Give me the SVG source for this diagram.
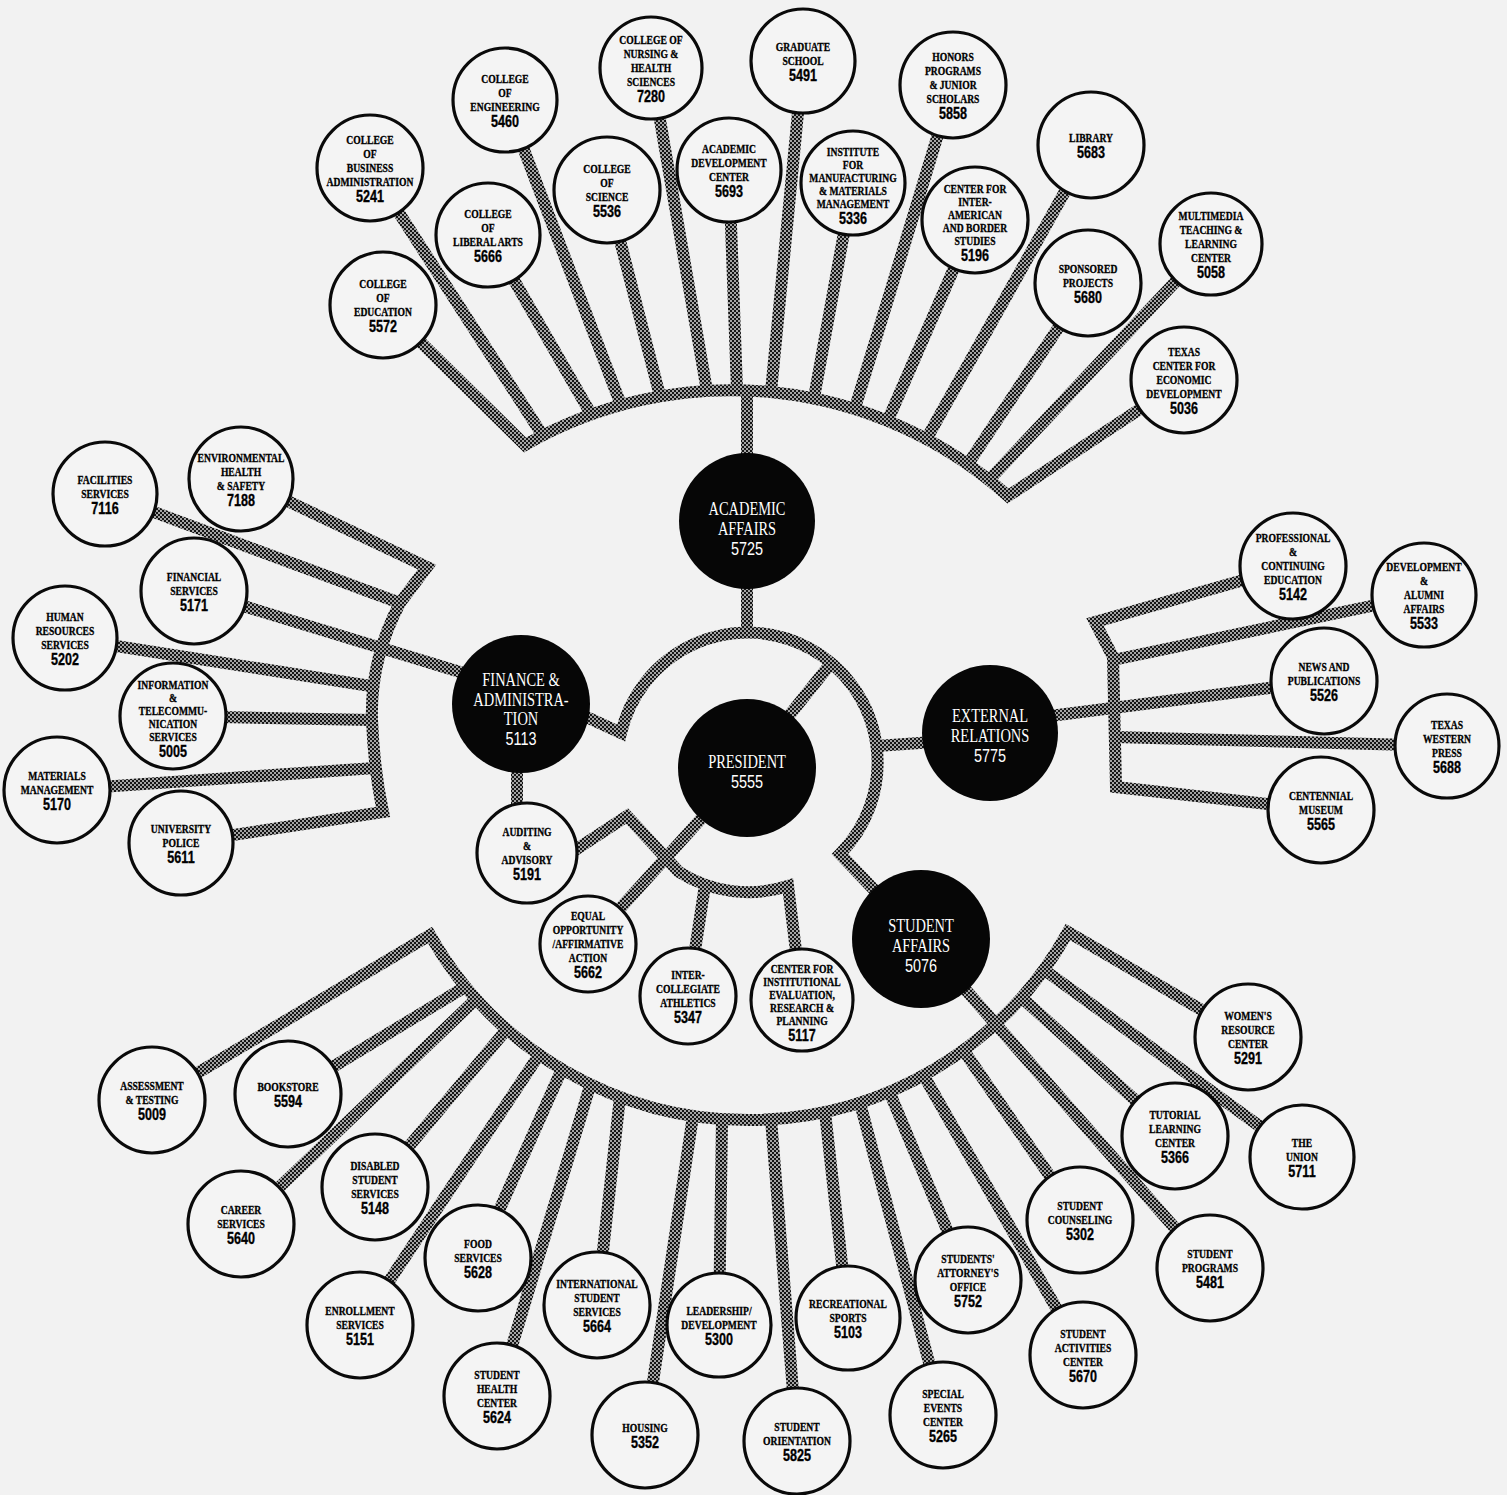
<svg xmlns="http://www.w3.org/2000/svg" width="1507" height="1495" viewBox="0 0 1507 1495">
<defs>
<pattern id="chk" width="4" height="4" patternUnits="userSpaceOnUse"><rect width="4" height="4" fill="#a4a4a4"/><rect width="2" height="2" fill="#151515"/><rect x="2" y="2" width="2" height="2" fill="#151515"/></pattern>
<style>
.k{fill:none;stroke:url(#chk);stroke-width:12;stroke-linejoin:miter;stroke-miterlimit:10}
.c{fill:#f4f4f4;stroke:#0a0a0a;stroke-width:3.2}
.h{fill:#060606}
.t{font-family:"Liberation Serif",serif;font-weight:bold;font-size:13px;text-anchor:middle;fill:#000;stroke:#000;stroke-width:0.35}
.n{font-family:"Liberation Sans",sans-serif;font-weight:bold;font-size:17px}
.ht{font-family:"Liberation Serif",serif;font-size:18.5px;text-anchor:middle;fill:#fff}
.hn{font-family:"Liberation Sans",sans-serif;font-size:18.5px}
</style>
</defs>
<rect width="1507" height="1495" fill="#f2f2f2"/>
<g id="connectors" class="k">
<path d="M383,305 L525,445 A415,415 0 0 1 1008,496 L1184,380"/>
<path d="M543,436 L370,168"/>
<path d="M591,414 L488,235"/>
<path d="M621,405 L505,100"/>
<path d="M660,396 L607,190"/>
<path d="M707,391 L651,68"/>
<path d="M737,390 L729,170"/>
<path d="M771,392 L803,61"/>
<path d="M814,398 L853,183"/>
<path d="M855,408 L953,85"/>
<path d="M888,420 L975,220"/>
<path d="M927,438 L1091,145"/>
<path d="M968,464 L1088,283"/>
<path d="M990,479 L1211,244"/>
<path d="M747,390 L747,632"/>
<path d="M921,939 L840,854 A130,130 0 1 0 621,733 L580,714"/>
<path d="M747,768 L832,662"/>
<path d="M877,746 L990,738"/>
<path d="M560,860 L627,816 L679,872 A130,130 0 0 0 788,886 L802,1000"/>
<path d="M705,885 L688,996"/>
<path d="M747,768 L588,944"/>
<path d="M517,703 L517,853"/>
<path d="M241,479 L427,567 L400,603 Q370,660 372,720 Q374,770 383,812 L181,843"/>
<path d="M400,603 L105,494"/>
<path d="M377,687 L65,638"/>
<path d="M372,720 L173,716"/>
<path d="M375,768 L57,790"/>
<path d="M470,675 L194,591"/>
<path d="M1293,566 L1095,622 L1113,657 L1116,787 L1321,810"/>
<path d="M1113,660 L1424,595"/>
<path d="M1115,737 L1447,746"/>
<path d="M1050,716 L1324,681"/>
<path d="M152,1100 L430,935 A366,366 0 0 0 1068,932 L1248,1037"/>
<path d="M465,987 L288,1094"/>
<path d="M475,1000 L241,1224"/>
<path d="M507,1029 L375,1187"/>
<path d="M539,1055 L360,1325"/>
<path d="M562,1069 L478,1258"/>
<path d="M590,1086 L497,1396"/>
<path d="M620,1097 L597,1305"/>
<path d="M693,1116 L645,1435"/>
<path d="M722,1119 L719,1325"/>
<path d="M771,1119 L797,1441"/>
<path d="M825,1112 L848,1318"/>
<path d="M860,1103 L943,1415"/>
<path d="M889,1091 L968,1280"/>
<path d="M924,1076 L1083,1355"/>
<path d="M964,1051 L1080,1220"/>
<path d="M921,939 L1210,1268"/>
<path d="M1022,998 L1175,1136"/>
<path d="M1043,969 L1302,1157"/>
</g>

<g id="hub-academic" transform="translate(747 521)"><circle class="h" r="68"/><text class="ht" transform="scale(.78 1)"><tspan x="0" y="-6">ACADEMIC</tspan><tspan x="0" y="14">AFFAIRS</tspan><tspan class="hn" x="0" y="34">5725</tspan></text></g>
<g id="hub-finance" transform="translate(521 704)"><circle class="h" r="69"/><text class="ht" transform="scale(.78 1)"><tspan x="0" y="-18">FINANCE &amp;</tspan><tspan x="0" y="1.5">ADMINISTRA-</tspan><tspan x="0" y="21">TION</tspan><tspan class="hn" x="0" y="41">5113</tspan></text></g>
<g id="hub-president" transform="translate(747 768)"><circle class="h" r="69"/><text class="ht" transform="scale(.78 1)"><tspan x="0" y="0">PRESIDENT</tspan><tspan class="hn" x="0" y="20">5555</tspan></text></g>
<g id="hub-external" transform="translate(990 733)"><circle class="h" r="68"/><text class="ht" transform="scale(.78 1)"><tspan x="0" y="-11">EXTERNAL</tspan><tspan x="0" y="9">RELATIONS</tspan><tspan class="hn" x="0" y="29">5775</tspan></text></g>
<g id="hub-student" transform="translate(921 939)"><circle class="h" r="69"/><text class="ht" transform="scale(.78 1)"><tspan x="0" y="-7">STUDENT</tspan><tspan x="0" y="13">AFFAIRS</tspan><tspan class="hn" x="0" y="33">5076</tspan></text></g>

<g id="n-business" transform="translate(370 168)"><circle class="c" r="53"/><text class="t" transform="scale(.74 1)"><tspan x="0" y="-23.9">COLLEGE</tspan><tspan x="0" y="-9.9">OF</tspan><tspan x="0" y="4.1">BUSINESS</tspan><tspan x="0" y="18.1">ADMINISTRATION</tspan><tspan class="n" x="0" y="34.2">5241</tspan></text></g>
<g id="n-engineering" transform="translate(505 100)"><circle class="c" r="52"/><text class="t" transform="scale(.74 1)"><tspan x="0" y="-16.9">COLLEGE</tspan><tspan x="0" y="-2.9">OF</tspan><tspan x="0" y="11.1">ENGINEERING</tspan><tspan class="n" x="0" y="27.2">5460</tspan></text></g>
<g id="n-nursing" transform="translate(651 68)"><circle class="c" r="51"/><text class="t" transform="scale(.74 1)"><tspan x="0" y="-23.9">COLLEGE OF</tspan><tspan x="0" y="-9.9">NURSING &amp;</tspan><tspan x="0" y="4.1">HEALTH</tspan><tspan x="0" y="18.1">SCIENCES</tspan><tspan class="n" x="0" y="34.2">7280</tspan></text></g>
<g id="n-liberal" transform="translate(488 235)"><circle class="c" r="52"/><text class="t" transform="scale(.74 1)"><tspan x="0" y="-16.9">COLLEGE</tspan><tspan x="0" y="-2.9">OF</tspan><tspan x="0" y="11.1">LIBERAL ARTS</tspan><tspan class="n" x="0" y="27.2">5666</tspan></text></g>
<g id="n-science" transform="translate(607 190)"><circle class="c" r="53"/><text class="t" transform="scale(.74 1)"><tspan x="0" y="-16.9">COLLEGE</tspan><tspan x="0" y="-2.9">OF</tspan><tspan x="0" y="11.1">SCIENCE</tspan><tspan class="n" x="0" y="27.2">5536</tspan></text></g>
<g id="n-education" transform="translate(383 305)"><circle class="c" r="53"/><text class="t" transform="scale(.74 1)"><tspan x="0" y="-16.9">COLLEGE</tspan><tspan x="0" y="-2.9">OF</tspan><tspan x="0" y="11.1">EDUCATION</tspan><tspan class="n" x="0" y="27.2">5572</tspan></text></g>
<g id="n-adc" transform="translate(729 170)"><circle class="c" r="52"/><text class="t" transform="scale(.74 1)"><tspan x="0" y="-16.9">ACADEMIC</tspan><tspan x="0" y="-2.9">DEVELOPMENT</tspan><tspan x="0" y="11.1">CENTER</tspan><tspan class="n" x="0" y="27.2">5693</tspan></text></g>
<g id="n-graduate" transform="translate(803 61)"><circle class="c" r="52"/><text class="t" transform="scale(.74 1)"><tspan x="0" y="-9.9">GRADUATE</tspan><tspan x="0" y="4.1">SCHOOL</tspan><tspan class="n" x="0" y="20.2">5491</tspan></text></g>
<g id="n-institute" transform="translate(853 183)"><circle class="c" r="52"/><text class="t" transform="scale(.74 1)"><tspan x="0" y="-26.9">INSTITUTE</tspan><tspan x="0" y="-13.9">FOR</tspan><tspan x="0" y="-0.9">MANUFACTURING</tspan><tspan x="0" y="12.1">&amp; MATERIALS</tspan><tspan x="0" y="25.1">MANAGEMENT</tspan><tspan class="n" x="0" y="41.2">5336</tspan></text></g>
<g id="n-honors" transform="translate(953 85)"><circle class="c" r="53"/><text class="t" transform="scale(.74 1)"><tspan x="0" y="-23.9">HONORS</tspan><tspan x="0" y="-9.9">PROGRAMS</tspan><tspan x="0" y="4.1">&amp; JUNIOR</tspan><tspan x="0" y="18.1">SCHOLARS</tspan><tspan class="n" x="0" y="34.2">5858</tspan></text></g>
<g id="n-interamerican" transform="translate(975 220)"><circle class="c" r="53"/><text class="t" transform="scale(.74 1)"><tspan x="0" y="-26.9">CENTER FOR</tspan><tspan x="0" y="-13.9">INTER-</tspan><tspan x="0" y="-0.9">AMERICAN</tspan><tspan x="0" y="12.1">AND BORDER</tspan><tspan x="0" y="25.1">STUDIES</tspan><tspan class="n" x="0" y="41.2">5196</tspan></text></g>
<g id="n-library" transform="translate(1091 145)"><circle class="c" r="53"/><text class="t" transform="scale(.74 1)"><tspan x="0" y="-2.9">LIBRARY</tspan><tspan class="n" x="0" y="13.2">5683</tspan></text></g>
<g id="n-sponsored" transform="translate(1088 283)"><circle class="c" r="53"/><text class="t" transform="scale(.74 1)"><tspan x="0" y="-9.9">SPONSORED</tspan><tspan x="0" y="4.1">PROJECTS</tspan><tspan class="n" x="0" y="20.2">5680</tspan></text></g>
<g id="n-multimedia" transform="translate(1211 244)"><circle class="c" r="51"/><text class="t" transform="scale(.74 1)"><tspan x="0" y="-23.9">MULTIMEDIA</tspan><tspan x="0" y="-9.9">TEACHING &amp;</tspan><tspan x="0" y="4.1">LEARNING</tspan><tspan x="0" y="18.1">CENTER</tspan><tspan class="n" x="0" y="34.2">5058</tspan></text></g>
<g id="n-texascenter" transform="translate(1184 380)"><circle class="c" r="53"/><text class="t" transform="scale(.74 1)"><tspan x="0" y="-23.9">TEXAS</tspan><tspan x="0" y="-9.9">CENTER FOR</tspan><tspan x="0" y="4.1">ECONOMIC</tspan><tspan x="0" y="18.1">DEVELOPMENT</tspan><tspan class="n" x="0" y="34.2">5036</tspan></text></g>

<g id="n-facilities" transform="translate(105 494)"><circle class="c" r="52"/><text class="t" transform="scale(.74 1)"><tspan x="0" y="-9.9">FACILITIES</tspan><tspan x="0" y="4.1">SERVICES</tspan><tspan class="n" x="0" y="20.2">7116</tspan></text></g>
<g id="n-environmental" transform="translate(241 479)"><circle class="c" r="52"/><text class="t" transform="scale(.74 1)"><tspan x="0" y="-16.9">ENVIRONMENTAL</tspan><tspan x="0" y="-2.9">HEALTH</tspan><tspan x="0" y="11.1">&amp; SAFETY</tspan><tspan class="n" x="0" y="27.2">7188</tspan></text></g>
<g id="n-financial" transform="translate(194 591)"><circle class="c" r="53"/><text class="t" transform="scale(.74 1)"><tspan x="0" y="-9.9">FINANCIAL</tspan><tspan x="0" y="4.1">SERVICES</tspan><tspan class="n" x="0" y="20.2">5171</tspan></text></g>
<g id="n-hr" transform="translate(65 638)"><circle class="c" r="52"/><text class="t" transform="scale(.74 1)"><tspan x="0" y="-16.9">HUMAN</tspan><tspan x="0" y="-2.9">RESOURCES</tspan><tspan x="0" y="11.1">SERVICES</tspan><tspan class="n" x="0" y="27.2">5202</tspan></text></g>
<g id="n-info" transform="translate(173 716)"><circle class="c" r="53"/><text class="t" transform="scale(.74 1)"><tspan x="0" y="-26.9">INFORMATION</tspan><tspan x="0" y="-13.9">&amp;</tspan><tspan x="0" y="-0.9">TELECOMMU-</tspan><tspan x="0" y="12.1">NICATION</tspan><tspan x="0" y="25.1">SERVICES</tspan><tspan class="n" x="0" y="41.2">5005</tspan></text></g>
<g id="n-materials" transform="translate(57 790)"><circle class="c" r="53"/><text class="t" transform="scale(.74 1)"><tspan x="0" y="-9.9">MATERIALS</tspan><tspan x="0" y="4.1">MANAGEMENT</tspan><tspan class="n" x="0" y="20.2">5170</tspan></text></g>
<g id="n-police" transform="translate(181 843)"><circle class="c" r="52"/><text class="t" transform="scale(.74 1)"><tspan x="0" y="-9.9">UNIVERSITY</tspan><tspan x="0" y="4.1">POLICE</tspan><tspan class="n" x="0" y="20.2">5611</tspan></text></g>

<g id="n-professional" transform="translate(1293 566)"><circle class="c" r="53"/><text class="t" transform="scale(.74 1)"><tspan x="0" y="-23.9">PROFESSIONAL</tspan><tspan x="0" y="-9.9">&amp;</tspan><tspan x="0" y="4.1">CONTINUING</tspan><tspan x="0" y="18.1">EDUCATION</tspan><tspan class="n" x="0" y="34.2">5142</tspan></text></g>
<g id="n-development" transform="translate(1424 595)"><circle class="c" r="52"/><text class="t" transform="scale(.74 1)"><tspan x="0" y="-23.9">DEVELOPMENT</tspan><tspan x="0" y="-9.9">&amp;</tspan><tspan x="0" y="4.1">ALUMNI</tspan><tspan x="0" y="18.1">AFFAIRS</tspan><tspan class="n" x="0" y="34.2">5533</tspan></text></g>
<g id="n-news" transform="translate(1324 681)"><circle class="c" r="53"/><text class="t" transform="scale(.74 1)"><tspan x="0" y="-9.9">NEWS AND</tspan><tspan x="0" y="4.1">PUBLICATIONS</tspan><tspan class="n" x="0" y="20.2">5526</tspan></text></g>
<g id="n-texaswestern" transform="translate(1447 746)"><circle class="c" r="52"/><text class="t" transform="scale(.74 1)"><tspan x="0" y="-16.9">TEXAS</tspan><tspan x="0" y="-2.9">WESTERN</tspan><tspan x="0" y="11.1">PRESS</tspan><tspan class="n" x="0" y="27.2">5688</tspan></text></g>
<g id="n-centennial" transform="translate(1321 810)"><circle class="c" r="53"/><text class="t" transform="scale(.74 1)"><tspan x="0" y="-9.9">CENTENNIAL</tspan><tspan x="0" y="4.1">MUSEUM</tspan><tspan class="n" x="0" y="20.2">5565</tspan></text></g>

<g id="n-auditing" transform="translate(527 853)"><circle class="c" r="50"/><text class="t" transform="scale(.74 1)"><tspan x="0" y="-16.9">AUDITING</tspan><tspan x="0" y="-2.9">&amp;</tspan><tspan x="0" y="11.1">ADVISORY</tspan><tspan class="n" x="0" y="27.2">5191</tspan></text></g>
<g id="n-eeo" transform="translate(588 944)"><circle class="c" r="48"/><text class="t" transform="scale(.74 1)"><tspan x="0" y="-23.9">EQUAL</tspan><tspan x="0" y="-9.9">OPPORTUNITY</tspan><tspan x="0" y="4.1">/AFFIRMATIVE</tspan><tspan x="0" y="18.1">ACTION</tspan><tspan class="n" x="0" y="34.2">5662</tspan></text></g>
<g id="n-athletics" transform="translate(688 996)"><circle class="c" r="48"/><text class="t" transform="scale(.74 1)"><tspan x="0" y="-16.9">INTER-</tspan><tspan x="0" y="-2.9">COLLEGIATE</tspan><tspan x="0" y="11.1">ATHLETICS</tspan><tspan class="n" x="0" y="27.2">5347</tspan></text></g>
<g id="n-cierp" transform="translate(802 1000)"><circle class="c" r="51"/><text class="t" transform="scale(.74 1)"><tspan x="0" y="-26.9">CENTER FOR</tspan><tspan x="0" y="-13.9">INSTITUTIONAL</tspan><tspan x="0" y="-0.9">EVALUATION,</tspan><tspan x="0" y="12.1">RESEARCH &amp;</tspan><tspan x="0" y="25.1">PLANNING</tspan><tspan class="n" x="0" y="41.2">5117</tspan></text></g>

<g id="n-assessment" transform="translate(152 1100)"><circle class="c" r="53"/><text class="t" transform="scale(.74 1)"><tspan x="0" y="-9.9">ASSESSMENT</tspan><tspan x="0" y="4.1">&amp; TESTING</tspan><tspan class="n" x="0" y="20.2">5009</tspan></text></g>
<g id="n-bookstore" transform="translate(288 1094)"><circle class="c" r="53"/><text class="t" transform="scale(.74 1)"><tspan x="0" y="-2.9">BOOKSTORE</tspan><tspan class="n" x="0" y="13.2">5594</tspan></text></g>
<g id="n-career" transform="translate(241 1224)"><circle class="c" r="53"/><text class="t" transform="scale(.74 1)"><tspan x="0" y="-9.9">CAREER</tspan><tspan x="0" y="4.1">SERVICES</tspan><tspan class="n" x="0" y="20.2">5640</tspan></text></g>
<g id="n-disabled" transform="translate(375 1187)"><circle class="c" r="53"/><text class="t" transform="scale(.74 1)"><tspan x="0" y="-16.9">DISABLED</tspan><tspan x="0" y="-2.9">STUDENT</tspan><tspan x="0" y="11.1">SERVICES</tspan><tspan class="n" x="0" y="27.2">5148</tspan></text></g>
<g id="n-food" transform="translate(478 1258)"><circle class="c" r="53"/><text class="t" transform="scale(.74 1)"><tspan x="0" y="-9.9">FOOD</tspan><tspan x="0" y="4.1">SERVICES</tspan><tspan class="n" x="0" y="20.2">5628</tspan></text></g>
<g id="n-enrollment" transform="translate(360 1325)"><circle class="c" r="53"/><text class="t" transform="scale(.74 1)"><tspan x="0" y="-9.9">ENROLLMENT</tspan><tspan x="0" y="4.1">SERVICES</tspan><tspan class="n" x="0" y="20.2">5151</tspan></text></g>
<g id="n-health" transform="translate(497 1396)"><circle class="c" r="53"/><text class="t" transform="scale(.74 1)"><tspan x="0" y="-16.9">STUDENT</tspan><tspan x="0" y="-2.9">HEALTH</tspan><tspan x="0" y="11.1">CENTER</tspan><tspan class="n" x="0" y="27.2">5624</tspan></text></g>
<g id="n-international" transform="translate(597 1305)"><circle class="c" r="53"/><text class="t" transform="scale(.74 1)"><tspan x="0" y="-16.9">INTERNATIONAL</tspan><tspan x="0" y="-2.9">STUDENT</tspan><tspan x="0" y="11.1">SERVICES</tspan><tspan class="n" x="0" y="27.2">5664</tspan></text></g>
<g id="n-housing" transform="translate(645 1435)"><circle class="c" r="53"/><text class="t" transform="scale(.74 1)"><tspan x="0" y="-2.9">HOUSING</tspan><tspan class="n" x="0" y="13.2">5352</tspan></text></g>
<g id="n-leadership" transform="translate(719 1325)"><circle class="c" r="52"/><text class="t" transform="scale(.74 1)"><tspan x="0" y="-9.9">LEADERSHIP/</tspan><tspan x="0" y="4.1">DEVELOPMENT</tspan><tspan class="n" x="0" y="20.2">5300</tspan></text></g>
<g id="n-orientation" transform="translate(797 1441)"><circle class="c" r="53"/><text class="t" transform="scale(.74 1)"><tspan x="0" y="-9.9">STUDENT</tspan><tspan x="0" y="4.1">ORIENTATION</tspan><tspan class="n" x="0" y="20.2">5825</tspan></text></g>
<g id="n-recreational" transform="translate(848 1318)"><circle class="c" r="52"/><text class="t" transform="scale(.74 1)"><tspan x="0" y="-9.9">RECREATIONAL</tspan><tspan x="0" y="4.1">SPORTS</tspan><tspan class="n" x="0" y="20.2">5103</tspan></text></g>
<g id="n-special" transform="translate(943 1415)"><circle class="c" r="53"/><text class="t" transform="scale(.74 1)"><tspan x="0" y="-16.9">SPECIAL</tspan><tspan x="0" y="-2.9">EVENTS</tspan><tspan x="0" y="11.1">CENTER</tspan><tspan class="n" x="0" y="27.2">5265</tspan></text></g>
<g id="n-attorney" transform="translate(968 1280)"><circle class="c" r="53"/><text class="t" transform="scale(.74 1)"><tspan x="0" y="-16.9">STUDENTS'</tspan><tspan x="0" y="-2.9">ATTORNEY'S</tspan><tspan x="0" y="11.1">OFFICE</tspan><tspan class="n" x="0" y="27.2">5752</tspan></text></g>
<g id="n-activities" transform="translate(1083 1355)"><circle class="c" r="53"/><text class="t" transform="scale(.74 1)"><tspan x="0" y="-16.9">STUDENT</tspan><tspan x="0" y="-2.9">ACTIVITIES</tspan><tspan x="0" y="11.1">CENTER</tspan><tspan class="n" x="0" y="27.2">5670</tspan></text></g>
<g id="n-counseling" transform="translate(1080 1220)"><circle class="c" r="53"/><text class="t" transform="scale(.74 1)"><tspan x="0" y="-9.9">STUDENT</tspan><tspan x="0" y="4.1">COUNSELING</tspan><tspan class="n" x="0" y="20.2">5302</tspan></text></g>
<g id="n-programs" transform="translate(1210 1268)"><circle class="c" r="53"/><text class="t" transform="scale(.74 1)"><tspan x="0" y="-9.9">STUDENT</tspan><tspan x="0" y="4.1">PROGRAMS</tspan><tspan class="n" x="0" y="20.2">5481</tspan></text></g>
<g id="n-tutorial" transform="translate(1175 1136)"><circle class="c" r="53"/><text class="t" transform="scale(.74 1)"><tspan x="0" y="-16.9">TUTORIAL</tspan><tspan x="0" y="-2.9">LEARNING</tspan><tspan x="0" y="11.1">CENTER</tspan><tspan class="n" x="0" y="27.2">5366</tspan></text></g>
<g id="n-womens" transform="translate(1248 1037)"><circle class="c" r="53"/><text class="t" transform="scale(.74 1)"><tspan x="0" y="-16.9">WOMEN'S</tspan><tspan x="0" y="-2.9">RESOURCE</tspan><tspan x="0" y="11.1">CENTER</tspan><tspan class="n" x="0" y="27.2">5291</tspan></text></g>
<g id="n-union" transform="translate(1302 1157)"><circle class="c" r="52"/><text class="t" transform="scale(.74 1)"><tspan x="0" y="-9.9">THE</tspan><tspan x="0" y="4.1">UNION</tspan><tspan class="n" x="0" y="20.2">5711</tspan></text></g>
</svg>
